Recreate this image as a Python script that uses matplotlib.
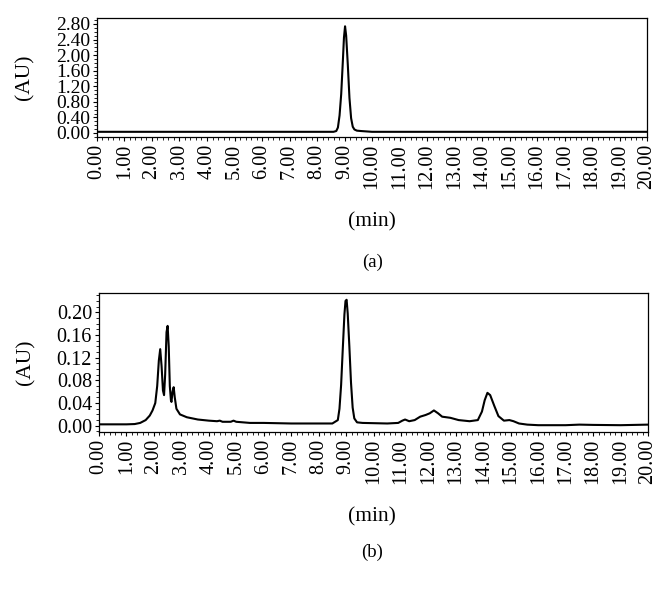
import numpy as np
import matplotlib
matplotlib.use("Agg")
from matplotlib import pyplot as plt
from matplotlib.ticker import MultipleLocator, FormatStrFormatter

# chromatogram (a): standard, time [min] and absorbance [AU]
time_a = [0.0, 8.0, 8.6, 8.7, 8.76, 8.82, 8.88, 8.94, 8.98, 9.02, 9.06, 9.12,
          9.18, 9.24, 9.3, 9.36, 9.45, 9.6, 9.8, 10.0, 20.0]
abs_a = [0.03, 0.03, 0.03, 0.05, 0.14, 0.45, 1.00, 1.85, 2.45, 2.74, 2.50, 1.75,
         0.90, 0.38, 0.16, 0.09, 0.06, 0.05, 0.04, 0.03, 0.03]

# chromatogram (b): sample
time_b = [0.0, 1.0, 1.3, 1.5, 1.7, 1.85, 1.95, 2.05, 2.12, 2.18, 2.23,
          2.28, 2.33, 2.37, 2.41, 2.46, 2.50, 2.54, 2.58, 2.62, 2.64,
          2.68, 2.72, 2.76, 2.82, 2.95, 3.2, 3.6, 4.0, 4.3, 4.4, 4.5,
          4.8, 4.9, 5.0, 5.5, 6.0, 7.0, 8.0, 8.5, 8.7, 8.76, 8.82, 8.88,
          8.94, 8.98, 9.02, 9.06, 9.12, 9.18, 9.24, 9.3, 9.4, 9.6, 10.5, 10.9,
          11.05, 11.15, 11.3, 11.5, 11.7, 11.9, 12.05, 12.2, 12.35, 12.5,
          12.8, 13.1, 13.5, 13.8, 13.95, 14.05, 14.15, 14.25, 14.4, 14.55,
          14.75, 14.95, 15.1, 15.3, 15.6, 16.0, 17.0, 17.5, 18.0, 19.0, 20.0]
abs_b = [0.0025, 0.0025, 0.003, 0.005, 0.010, 0.018, 0.027, 0.040, 0.070, 0.115, 0.135,
         0.105, 0.062, 0.054, 0.090, 0.165, 0.176, 0.140, 0.070, 0.045, 0.042,
         0.060, 0.068, 0.050, 0.030, 0.020, 0.015, 0.011, 0.009, 0.008, 0.009, 0.007,
         0.007, 0.009, 0.007, 0.005, 0.005, 0.004, 0.004, 0.004, 0.010, 0.030, 0.072, 0.135,
         0.196, 0.220, 0.222, 0.198, 0.140, 0.076, 0.032, 0.013, 0.006, 0.005, 0.004, 0.005,
         0.009, 0.011, 0.008, 0.010, 0.016, 0.019, 0.022, 0.027, 0.022, 0.016,
         0.014, 0.010, 0.008, 0.010, 0.025, 0.045, 0.058, 0.054, 0.035, 0.017,
         0.009, 0.010, 0.008, 0.004, 0.002, 0.001, 0.001, 0.002, 0.0015, 0.001, 0.002]

plt.rcParams['font.family'] = ['Liberation Serif', 'DejaVu Serif']

fig = plt.figure(figsize=(6.68, 5.99), dpi=100)
ax1 = fig.add_axes([0.1452, 0.7713, 0.8234, 0.1987])
ax2 = fig.add_axes([0.1482, 0.2788, 0.8219, 0.2321])

panels = [(ax1, time_a, abs_a, (-0.103, 2.954), 0.4, 0.1),
          (ax2, time_b, abs_b, (-0.011, 0.234), 0.04, 0.01)]

for ax, t, a, ylim, ymaj, ymin in panels:
    ax.plot(t, a, color='black', lw=1.5)
    ax.set_xlim(0, 20)
    ax.set_ylim(*ylim)
    ax.set_yticks(np.arange(0, ylim[1] - 0.1 * ymaj, ymaj))
    ax.xaxis.set_major_locator(MultipleLocator(1))
    ax.xaxis.set_minor_locator(MultipleLocator(0.2))
    ax.yaxis.set_minor_locator(MultipleLocator(ymin))
    ax.xaxis.set_major_formatter(FormatStrFormatter('%.2f'))
    ax.yaxis.set_major_formatter(FormatStrFormatter('%.2f'))
    ax.tick_params(axis='x', labelrotation=90, labelsize=14.5, pad=2)
    ax.tick_params(axis='y', labelsize=14.5, pad=2)
    ax.tick_params(which='major', length=3, width=0.8)
    ax.tick_params(which='minor', length=2, width=0.6)
    for s in ax.spines.values():
        s.set_linewidth(0.9)
    ax.set_ylabel('(AU)', fontsize=15.5)

ax1.yaxis.set_label_coords(-0.113, 0.5)
ax2.yaxis.set_label_coords(-0.115, 0.5)
ax1.tick_params(axis='y', labelsize=14)

fig.text(0.557, 0.629, '(min)', ha='center', va='center', fontsize=15.5)
fig.text(0.557, 0.5626, '(a)', ha='center', va='center', fontsize=13.5)
fig.text(0.557, 0.137, '(min)', ha='center', va='center', fontsize=15.5)
fig.text(0.557, 0.0785, '(b)', ha='center', va='center', fontsize=13.5)

fig.savefig('out.png', dpi=100)
